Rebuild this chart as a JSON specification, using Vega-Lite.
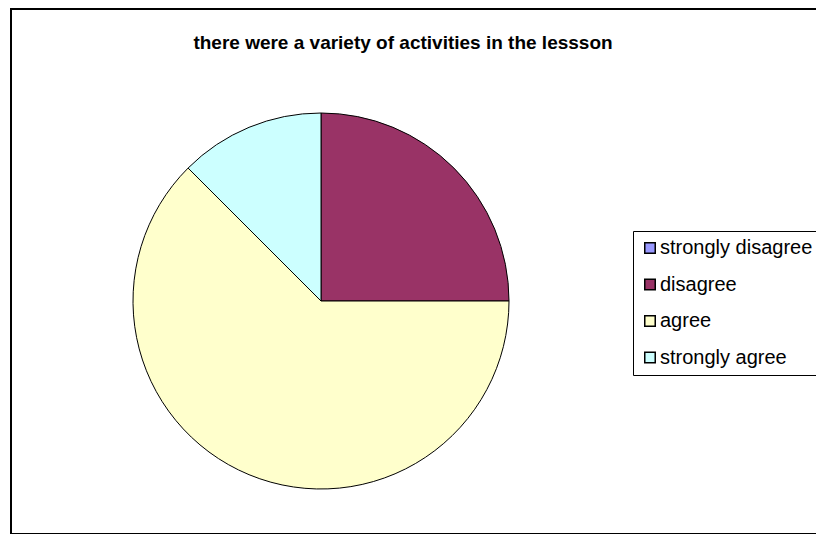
{
  "$schema": "https://vega.github.io/schema/vega-lite/v6.json",
  "autosize": "none",
  "width": 812,
  "height": 525,
  "padding": {"left": 11, "top": 9, "right": 0, "bottom": 0},
  "background": "white",
  "view": {"stroke": "black", "strokeWidth": 2, "fill": "white"},
  "title": {
    "text": "there were a variety of activities in the lessson",
    "font": "Liberation Sans",
    "fontSize": 19,
    "fontWeight": "bold",
    "color": "black",
    "anchor": "middle",
    "baseline": "alphabetic",
    "offset": -59,
    "dx": -14
  },
  "data": {
    "values": [
      {"response": "strongly disagree", "count": 0},
      {"response": "disagree", "count": 2},
      {"response": "agree", "count": 5},
      {"response": "strongly agree", "count": 1}
    ]
  },
  "transform": [
    {"window": [{"op": "row_number", "as": "slice_order"}]}
  ],
  "mark": {
    "type": "arc",
    "x": 310,
    "y": 292,
    "outerRadius": 188,
    "stroke": "black",
    "strokeWidth": 1
  },
  "encoding": {
    "theta": {"field": "count", "type": "quantitative", "stack": true},
    "order": {"field": "slice_order", "type": "quantitative", "sort": "ascending"},
    "color": {
      "field": "response",
      "type": "nominal",
      "sort": ["strongly disagree", "disagree", "agree", "strongly agree"],
      "scale": {
        "domain": ["strongly disagree", "disagree", "agree", "strongly agree"],
        "range": ["#9999FF", "#993366", "#FFFFCC", "#CCFFFF"]
      },
      "legend": {
        "title": null,
        "orient": "none",
        "legendX": 622,
        "legendY": 222,
        "symbolType": "square",
        "symbolSize": 110,
        "symbolStrokeColor": "black",
        "symbolStrokeWidth": 1.5,
        "labelFont": "Liberation Sans",
        "labelFontSize": 20,
        "labelColor": "black",
        "labelOffset": 0,
        "labelLimit": 400,
        "rowPadding": 16.5,
        "padding": 7,
        "strokeColor": "black",
        "fillColor": "white"
      }
    }
  },
  "config": {
    "view": {"stroke": "black", "strokeWidth": 2}
  }
}
